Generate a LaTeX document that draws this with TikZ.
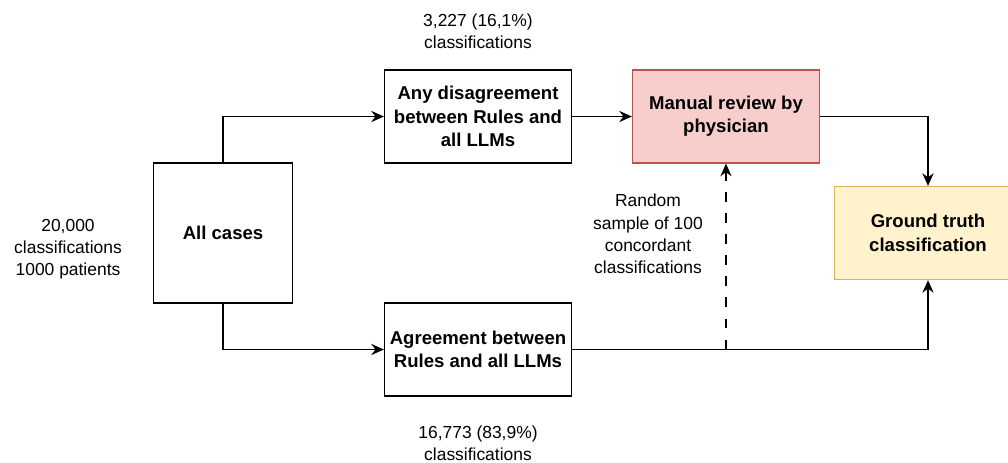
\documentclass[tikz,border=0pt]{standalone}
\usepackage{fontspec}
\setmainfont{Liberation Sans}
\usetikzlibrary{arrows.meta,positioning}

\definecolor{reviewfill}{HTML}{F8CECC}
\definecolor{reviewdraw}{HTML}{B85450}
\definecolor{truthfill}{HTML}{FFF2CC}
\definecolor{truthdraw}{HTML}{D6B656}

\begin{document}
\begin{tikzpicture}[x=0.025cm,y=-0.025cm,
  box/.style={draw, line width=0.9pt, align=center, inner sep=2pt,
    font=\fontsize{13.2}{16.6}\selectfont\bfseries,
    minimum width=4.675cm, minimum height=2.325cm},
  note/.style={align=center, font=\fontsize{12.4}{15.8}\selectfont},
  flow/.style={line width=0.9pt, -{Stealth[length=9pt,width=8pt,inset=3pt]}}]

\useasboundingbox (0,0) rectangle (1008,462);

%boxes
\node[box, minimum width=3.475cm, minimum height=3.5cm] (all) at (223,233) {All cases};
\node[box] (disagree) at (478,116.5) {Any disagreement\\between Rules and\\all LLMs};
\node[box] (agree) at (478,349.5) {Agreement between\\Rules and all LLMs};
\node[box, fill=reviewfill, draw=reviewdraw] (review) at (726,116.5) {Manual review by\\physician};
\node[box, fill=truthfill, draw=truthdraw] (truth) at (928,233) {Ground truth\\classification};

%counts
\node[note] (ndisagree) at (478,31) {3,227 (16,1\%)\\classifications};
\node[note] (nagree) at (478,443) {16,773 (83,9\%)\\classifications};
\node[note] (nall) at (68,249) {20,000\\classifications\\1000 patients};
\node[note] (nsample) at (648,234) {Random\\sample of 100\\concordant\\classifications};

%connectors
\draw[flow] (all.north) |- (disagree.west);
\draw[flow] (all.south) |- (agree.west);
\draw[flow] (disagree) -- (review);
\draw[flow] (review.east) -| (truth.north);
\draw[flow] (agree.east) -| (truth.south);

\coordinate (split) at (review.south |- agree.east);
\draw[flow, dash pattern=on 7pt off 8pt] (split) -- (review.south);

\end{tikzpicture}
\end{document}
